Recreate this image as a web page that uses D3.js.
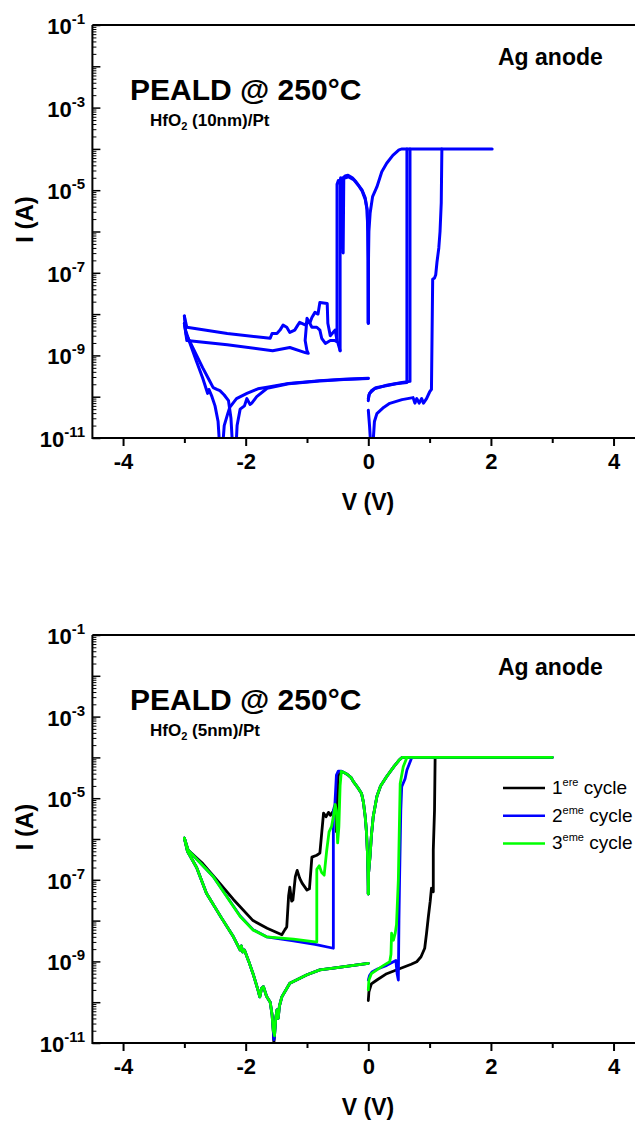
<!DOCTYPE html>
<html><head><meta charset="utf-8">
<script src="https://cdn.jsdelivr.net/npm/d3@7"></script>
<style>
html,body{margin:0;padding:0;background:#fff;}
svg{display:block;font-family:Arial,"Liberation Sans",sans-serif;}
</style></head><body>
<svg id="c" width="635" height="1122"></svg>
<script>
// ---------- axis ticks ----------
const xMajorTicks = [-4, -2, 0, 2, 4];
const xMinorTicks = [-3, -1, 1, 3];
const yLabelExps = [-1, -3, -5, -7, -9, -11];
const yDecades = [-11, -10, -9, -8, -7, -6, -5, -4, -3, -2, -1];

// ---------- top panel : HfO2 (10nm)/Pt, blue ----------
const top_onPos = [[0,6e-9],[0.003,2e-7],[0.01,1e-6],[0.03,2.8e-6],[0.07,7e-6],[0.14,1.2e-5],[0.22,2.8e-5],[0.3,4.5e-5],[0.4,7e-5],[0.5,9.5e-5],[0.55,1e-4],[2.02,1e-4]];
const top_onNeg1 = [[0,6e-9],[-0.003,2e-7],[-0.007,1e-6],[-0.02,3.5e-6],[-0.05,6.5e-6],[-0.1,1e-5],[-0.14,1.2e-5],[-0.2,1.6e-5],[-0.26,2e-5],[-0.33,2.3e-5],[-0.38,2.2e-5],[-0.43,1.9e-5],[-0.45,2e-5],[-0.47,1.5e-5],[-0.49,1.7e-5],[-0.51,1.4e-5],[-0.51,2.3e-9]];
const top_onNeg2 = [[0,6e-9],[-0.003,2e-7],[-0.008,1e-6],[-0.02,3.3e-6],[-0.05,6e-6],[-0.1,9.5e-6],[-0.16,1.3e-5],[-0.24,1.8e-5],[-0.32,2.1e-5],[-0.37,2e-5],[-0.4,1.9e-5],[-0.41,3e-7],[-0.42,1.5e-5],[-0.44,1.8e-5],[-0.46,1.6e-5],[-0.46,1.3e-9]];
const top_tail1 = [[-0.51,2.3e-9],[-0.54,4.1e-9],[-0.62,3e-9],[-0.66,6e-9],[-0.67,1.8e-8],[-0.79,1.9e-8],[-0.82,1e-8],[-0.87,1.1e-8],[-0.92,8.3e-9],[-0.95,6.3e-9],[-1.0,6.3e-9],[-1.03,5.5e-9],[-1.12,6.3e-9],[-1.15,5.4e-9],[-1.2,4.1e-9],[-1.28,3.6e-9],[-1.33,4.8e-9],[-1.39,5.4e-9],[-1.44,4.1e-9],[-1.49,3.4e-9],[-1.57,3.4e-9],[-1.6,2.6e-9],[-2.3,3.4e-9],[-2.96,4.8e-9],[-3.0,9e-9]];
const top_tail2 = [[-0.46,1.3e-9],[-0.5,2.1e-9],[-0.55,2.3e-9],[-0.62,2.3e-9],[-0.7,1.95e-9],[-0.76,2.6e-9],[-0.79,4.1e-9],[-0.84,4.8e-9],[-0.92,4.8e-9],[-0.98,7.1e-9],[-1.0,7.9e-9],[-1.03,2.3e-9],[-1.0,1.3e-9],[-0.98,1.12e-9],[-1.03,1.17e-9],[-1.28,1.55e-9],[-1.56,1.3e-9],[-2.3,1.8e-9],[-2.96,2.3e-9],[-3.0,6e-9]];
const top_ret1 = [[-3.0,9e-9],[-2.98,4e-9],[-2.9,1.8e-9],[-2.8,7e-10],[-2.7,2.8e-10],[-2.62,1.2e-10],[-2.6,1.5e-10],[-2.55,1e-10],[-2.5,6e-11],[-2.45,2.5e-11],[-2.42,5e-12],[-2.38,5e-12],[-2.35,2e-11],[-2.29,4e-11],[-2.26,5.5e-11],[-2.15,9e-11],[-1.98,1.2e-10],[-1.8,1.55e-10],[-1.65,1.7e-10],[-1.3,2.1e-10],[-0.79,2.45e-10],[-0.4,2.65e-10],[0,2.8e-10]];
const top_ret2 = [[-3.0,6e-9],[-2.97,3.2e-9],[-2.9,2e-9],[-2.8,1e-9],[-2.7,5e-10],[-2.6,2.6e-10],[-2.53,1.66e-10],[-2.47,1.5e-10],[-2.42,1.4e-10],[-2.35,1.1e-10],[-2.28,8e-11],[-2.24,3e-11],[-2.21,5e-12],[-2.16,5e-12],[-2.14,2e-11],[-2.09,5e-11],[-2.02,6e-11],[-1.98,9e-11],[-1.93,6.5e-11],[-1.9,7e-11],[-1.82,1e-10],[-1.65,1.6e-10],[-1.3,2.05e-10],[-0.79,2.4e-10],[-0.4,2.6e-10],[0,2.75e-10]];
const top_set1 = [[0,8e-11],[0.01,1.1e-10],[0.05,1.4e-10],[0.12,1.65e-10],[0.25,1.8e-10],[0.45,2.05e-10],[0.63,2.2e-10],[0.63,1e-4]];
const top_set2 = [[0,9e-11],[0.02,1.2e-10],[0.1,1.55e-10],[0.3,1.9e-10],[0.55,2.2e-10],[0.68,2.35e-10],[0.68,1e-4]];
const top_set3 = [[0,4.7e-11],[0.02,2e-11],[0.045,5e-12],[0.07,5e-12],[0.1,2.5e-11],[0.14,3.9e-11],[0.25,5.5e-11],[0.35,6.9e-11],[0.55,8.5e-11],[0.73,9.5e-11],[0.76,7e-11],[0.79,9e-11],[0.83,7e-11],[0.87,9e-11],[0.9,7e-11],[0.95,9e-11],[1.0,1.3e-10],[1.03,1.5e-10],[1.05,7e-8],[1.08,7.5e-8],[1.1,9e-8],[1.12,1.8e-7],[1.15,4e-7],[1.17,1e-6],[1.19,5e-6],[1.2,1e-4]];

// ---------- bottom panel : HfO2 (5nm)/Pt, three cycles ----------
const bot_hump = [[-0.44,4.5e-5],[-0.4,4.3e-5],[-0.34,3.8e-5],[-0.28,3.2e-5],[-0.24,2.5e-5],[-0.18,1.9e-5],[-0.11,1.3e-5],[-0.08,8e-6],[-0.05,3.5e-6],[-0.03,1.5e-6],[-0.015,5e-7],[-0.005,1.5e-7],[0,4.5e-8]];
const bot_onPos = [[0,4.5e-8],[0.005,1.5e-7],[0.03,4e-7],[0.05,1.2e-6],[0.08,3.5e-6],[0.14,1.1e-5],[0.2,2e-5],[0.3,3.4e-5],[0.42,6e-5],[0.5,8.5e-5],[0.55,1e-4],[3.0,1e-4]];
const bot_lower = [[-3.0,1.05e-6],[-2.95,5e-7],[-2.8,2e-7],[-2.64,4.7e-8],[-2.4,1.2e-8],[-2.2,4e-9],[-2.09,1.9e-9],[-2.07,2.4e-9],[-2.05,1.7e-9],[-2.02,1.9e-9],[-1.95,1e-9],[-1.88,5e-10],[-1.8,2e-10],[-1.77,1.35e-10],[-1.74,2.2e-10],[-1.71,2.4e-10],[-1.66,1.4e-10],[-1.6,1e-10],[-1.57,5e-11],[-1.55,2e-11],[-1.54,1e-11],[-1.53,1.5e-11],[-1.51,4e-11],[-1.49,6.5e-11],[-1.47,4e-11],[-1.45,8e-11],[-1.41,1.35e-10],[-1.28,2.9e-10],[-1.0,4.7e-10],[-0.79,6.2e-10],[-0.57,6.8e-10],[0,8.9e-10]];
const c1_upper = [[-3.0,1.05e-6],[-2.94,5.4e-7],[-2.7,2.5e-7],[-2.47,1e-7],[-2.2,3.3e-8],[-1.88,1e-8],[-1.65,6.5e-9],[-1.41,4.5e-9],[-1.36,6e-9],[-1.33,7e-9],[-1.3,4e-8],[-1.28,6.6e-8],[-1.25,3e-8],[-1.23,3.2e-8],[-1.19,1.2e-7],[-1.16,1.7e-7],[-1.12,1.1e-7],[-1.08,8.3e-8],[-1.0,5.6e-8],[-0.96,6e-8],[-0.92,3.6e-7],[-0.84,4e-7],[-0.79,4.5e-7],[-0.76,1.4e-6],[-0.73,4.3e-6],[-0.69,3.5e-6],[-0.65,4.5e-6],[-0.62,3.8e-6],[-0.57,4.8e-6],[-0.54,6e-6],[-0.52,7.6e-6],[-0.52,1.5e-6],[-0.5,2e-5],[-0.49,3.7e-5],[-0.44,4.3e-5]];
const c2_upper = [[-3.0,1.05e-6],[-2.94,5.4e-7],[-2.53,1.2e-7],[-2.09,1.3e-8],[-1.88,6e-9],[-1.66,4e-9],[-1.22,3.2e-9],[-0.87,2.6e-9],[-0.57,2.1e-9],[-0.57,5e-6],[-0.545,7e-6],[-0.52,3.7e-5],[-0.49,4.6e-5],[-0.44,4.6e-5]];
const c3_upper = [[-3.0,1.05e-6],[-2.94,5.4e-7],[-2.53,1.2e-7],[-2.09,1.26e-8],[-1.88,5.9e-9],[-1.66,4e-9],[-1.22,3.5e-9],[-0.87,3e-9],[-0.84,3e-9],[-0.84,1.8e-7],[-0.8,2.2e-7],[-0.76,1.5e-7],[-0.72,1.3e-7],[-0.68,5e-7],[-0.64,1.5e-6],[-0.6,2e-6],[-0.57,3.5e-6],[-0.54,7e-6],[-0.52,5e-6],[-0.5,8e-7],[-0.48,2e-6],[-0.46,2e-5],[-0.44,4.5e-5]];
const c1_set = [[0,1.1e-10],[0.01,1.8e-10],[0.05,2.8e-10],[0.14,3.5e-10],[0.3,5e-10],[0.52,6.7e-10],[0.7,8.5e-10],[0.79,9.8e-10],[0.86,1.3e-9],[0.92,2.1e-9],[0.95,4.9e-9],[0.98,1.26e-8],[1.01,3e-8],[1.03,6.2e-8],[1.06,5.1e-8],[1.06,5.4e-7],[1.08,5e-6],[1.09,1e-4]];
const c2_set = [[0,3.5e-10],[0.02,4.5e-10],[0.06,5.5e-10],[0.15,6.5e-10],[0.3,8e-10],[0.41,9.8e-10],[0.45,1.05e-9],[0.47,5e-10],[0.49,3.5e-10],[0.5,1e-8],[0.51,1e-7],[0.53,5e-6],[0.545,1.9e-5],[0.6,3e-5],[0.63,4.9e-5],[0.67,7e-5],[0.71,1e-4]];
const c3_set = [[0,2e-10],[0.01,3.5e-10],[0.05,5e-10],[0.14,6.2e-10],[0.25,8e-10],[0.35,9.8e-10],[0.37,1.5e-9],[0.38,4.9e-9],[0.41,3.3e-9],[0.44,5e-9],[0.46,8e-9],[0.49,1e-7],[0.52,2.3e-5],[0.57,5.9e-5],[0.63,1e-4]];
const c1_dip = 1e-11, c2_dip = 1.2e-11, c3_dip = 1.8e-11;

const legendLabels = [["1","ere"],["2","eme"],["3","eme"]];
const colors = ["#000000", "#0000ff", "#00ff00"];

// ---------- drawing ----------
const svg = d3.select("#c");
const xRange = [92.4, 644.2];
const FONT = "Arial, 'Liberation Sans', sans-serif";

function lowerFor(dip){ return bot_lower.map(d => [d[0], d[0] === -1.54 ? dip : d[1]]); }

function panel(p){
  const x = d3.scaleLinear([-4.5, 4.5], xRange);
  const y = d3.scaleLog([1e-11, 1e-1], [p.bottom, p.top]);
  const g = svg.append("g");
  const cid = "clip" + p.id;
  svg.append("defs").append("clipPath").attr("id", cid)
    .append("rect").attr("x", xRange[0]).attr("y", p.top)
    .attr("width", xRange[1]-xRange[0]).attr("height", p.bottom-p.top);
  const line = d3.line().x(d => x(d[0])).y(d => y(Math.max(d[1], 1e-12)));
  const dg = g.append("g").attr("clip-path", `url(#${cid})`);
  p.series.forEach(s => {
    dg.append("path").attr("d", line(s.data)).attr("fill","none")
      .attr("stroke", s.color).attr("stroke-width", s.w)
      .attr("stroke-linejoin","round").attr("stroke-linecap","round");
  });
  // x axis
  const xa = g.append("g").attr("transform", `translate(0,${p.bottom})`);
  xa.call(d3.axisBottom(x).tickValues(xMajorTicks).tickSize(8).tickFormat(d => d))
    .call(a => a.select(".domain").remove());
  xa.selectAll(".tick line").attr("stroke","#000").attr("stroke-width",2);
  xa.selectAll(".tick text").attr("font-size",22).attr("font-weight","bold")
    .attr("font-family",FONT).attr("fill","#000").attr("y",0).attr("dy",31);
  const xm = g.append("g").attr("transform", `translate(0,${p.bottom})`);
  xm.call(d3.axisBottom(x).tickValues(xMinorTicks).tickSize(5).tickFormat(""))
    .call(a => a.select(".domain").remove());
  xm.selectAll(".tick line").attr("stroke","#000").attr("stroke-width",2);
  // y axis ticks (inward)
  const ya = g.append("g").attr("transform", `translate(${xRange[0]},0)`);
  ya.call(d3.axisLeft(y).tickValues(yDecades.map(e => Math.pow(10, e))).tickSize(-8).tickFormat(""))
    .call(a => a.select(".domain").remove());
  ya.selectAll(".tick line").attr("stroke","#000").attr("stroke-width",1.5);
  const minors = [];
  yDecades.slice(0, -1).forEach(e => { for (let m = 2; m <= 9; m++) minors.push(m * Math.pow(10, e)); });
  const ym = g.append("g").attr("transform", `translate(${xRange[0]},0)`);
  ym.call(d3.axisLeft(y).tickValues(minors).tickSize(-4).tickFormat(""))
    .call(a => a.select(".domain").remove());
  ym.selectAll(".tick line").attr("stroke","#000").attr("stroke-width",1);
  // y labels
  yLabelExps.forEach(e => {
    const t = g.append("text").attr("x", 85).attr("y", y(Math.pow(10, e)) + 9)
      .attr("text-anchor","end").attr("font-size",22).attr("font-weight","bold");
    t.append("tspan").text("10");
    t.append("tspan").attr("dy",-10).attr("font-size",15).text(String(e));
  });
  // frame
  g.append("path").attr("d", `M${xRange[0]},${p.top}H${xRange[1]}M${xRange[0]},${p.top}V${p.bottom}H${xRange[1]}`)
    .attr("fill","none").attr("stroke","#000").attr("stroke-width",2);
  // axis titles
  g.append("text").attr("x", 368).attr("y", p.bottom + 72).attr("text-anchor","middle")
    .attr("font-size",23).attr("font-weight","bold").text("V (V)");
  g.append("text").attr("transform", `translate(33,${(p.top+p.bottom)/2 - 12}) rotate(-90)`)
    .attr("text-anchor","middle").attr("font-size",24).attr("font-weight","bold").text("I (A)");
  // annotations
  g.append("text").attr("x",130).attr("y",p.top+75).attr("font-size",30).attr("font-weight","bold").text("PEALD @ 250°C");
  const st = g.append("text").attr("x",150).attr("y",p.top+101).attr("font-size",17).attr("font-weight","bold");
  st.append("tspan").text("HfO");
  st.append("tspan").attr("dy",4).attr("font-size",11).text("2");
  st.append("tspan").attr("dy",-4).text(" " + p.sub);
  g.append("text").attr("x",498).attr("y",p.top+40).attr("font-size",23).attr("font-weight","bold").text("Ag anode");
  if (p.legend) {
    legendLabels.forEach((lab, i) => {
      const ly = p.top + 153 + i * 27.7;
      g.append("line").attr("x1",503).attr("x2",545).attr("y1",ly).attr("y2",ly)
        .attr("stroke", colors[i]).attr("stroke-width",2.5);
      const t = g.append("text").attr("x",552).attr("y",ly+6).attr("font-size",19);
      t.append("tspan").text(lab[0]);
      t.append("tspan").attr("dy",-8).attr("font-size",11).text(lab[1]);
      t.append("tspan").attr("dy",8).text(" cycle");
    });
  }
}

const blue = "#0000ff";
panel({
  id: "t", top: 25, bottom: 438, sub: "(10nm)/Pt", legend: false,
  series: [top_onPos, top_onNeg1, top_onNeg2, top_tail1, top_tail2, top_ret1, top_ret2, top_set1, top_set2, top_set3]
    .map(d => ({data: d, color: blue, w: 3}))
});

const botSeries = [];
[[c1_upper, c1_set, c1_dip], [c2_upper, c2_set, c2_dip], [c3_upper, c3_set, c3_dip]].forEach((c, i) => {
  [c[0], bot_hump, bot_onPos, lowerFor(c[2]), c[1]].forEach(d => botSeries.push({data: d, color: colors[i], w: 2.8}));
});
panel({ id: "b", top: 635, bottom: 1043, sub: "(5nm)/Pt", legend: true, series: botSeries });
</script>
</body></html>
